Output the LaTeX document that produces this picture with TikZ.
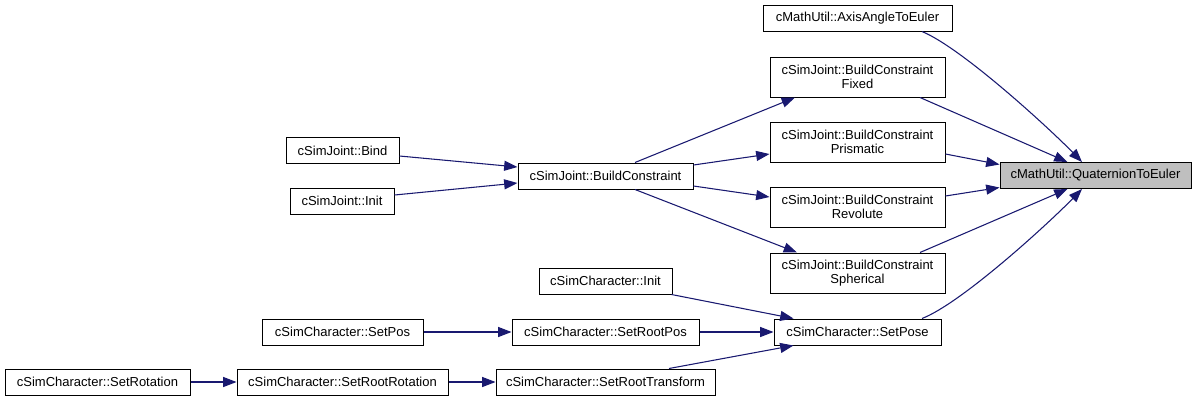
\documentclass[tikz,border=0pt]{standalone}
\usepackage{fontspec}
\setmainfont{Liberation Sans}
\usetikzlibrary{arrows.meta,calc}
\definecolor{edgec}{HTML}{191970}
\definecolor{hl}{HTML}{BFBFBF}
\begin{document}
\begin{tikzpicture}[x=0.75pt,y=-0.75pt,
  box/.style={draw=black,line width=0.75pt,fill=white,inner sep=0pt,align=center,
    font=\fontsize{9.75}{10.75}\selectfont,minimum height=19.5pt},
  bw/.style={minimum width=#1*0.75pt},
  twoline/.style={minimum height=30pt},
  edge/.style={draw=edgec,line width=0.8pt,-{Triangle[length=10pt,width=7.5pt]}}]
\useasboundingbox (0,0) rectangle (1197,401);
% nodes
\node[box,bw=189] (axis) at (857.5,18) {cMathUtil::AxisAngleToEuler};
\node[box,bw=175,twoline] (fixed) at (857.5,77) {cSimJoint::BuildConstraint\\Fixed};
\node[box,bw=175,twoline] (prism) at (857.5,142) {cSimJoint::BuildConstraint\\Prismatic};
\node[box,bw=175,twoline] (revol) at (857.5,207) {cSimJoint::BuildConstraint\\Revolute};
\node[box,bw=175,twoline] (spher) at (857.5,273) {cSimJoint::BuildConstraint\\Spherical};
\node[box,bw=191,fill=hl] (quat) at (1095.5,175.5) {cMathUtil::QuaternionToEuler};
\node[box,bw=167] (pose) at (857.5,332) {cSimCharacter::SetPose};
\node[box,bw=113] (bind) at (342.5,150.5) {cSimJoint::Bind};
\node[box,bw=104] (jinit) at (342,201) {cSimJoint::Init};
\node[box,bw=175] (bc) at (605.5,176) {cSimJoint::BuildConstraint};
\node[box,bw=133] (cinit) at (605.5,281) {cSimCharacter::Init};
\node[box,bw=161] (setpos) at (342.5,332) {cSimCharacter::SetPos};
\node[box,bw=187] (rootpos) at (605.5,332) {cSimCharacter::SetRootPos};
\node[box,bw=185] (setrot) at (97.5,382) {cSimCharacter::SetRotation};
\node[box,bw=211] (rootrot) at (342.5,382) {cSimCharacter::SetRootRotation};
\node[box,bw=219] (roottr) at (605.5,382) {cSimCharacter::SetRootTransform};
% edges
\draw[edge] ($(axis.south)+(64.5,0)$) .. controls (962,48) and (1050,129) .. ($(quat.north)+(-13.5,0)$);
\draw[edge] ($(fixed.south)+(62.5,0)$) -- ($(quat.north)+(-28,0)$);
\draw[edge] ($(prism.east)+(0,12)$) -- ($(quat.west)+(0,-11)$);
\draw[edge] ($(revol.east)+(0,-11)$) -- ($(quat.west)+(0,12)$);
\draw[edge] ($(spher.north)+(62.5,0)$) -- ($(quat.south)+(-28,0)$);
\draw[edge] ($(pose.north)+(64.5,0)$) .. controls (962,303) and (1050,222) .. ($(quat.south)+(-13.5,0)$);
\draw[edge] ($(bc.north)+(29.5,0)$) -- ($(fixed.south)+(-62.5,0)$);
\draw[edge] ($(bc.east)+(0,-11)$) -- ($(prism.west)+(0,12)$);
\draw[edge] ($(bc.east)+(0,10)$) -- ($(revol.west)+(0,-10)$);
\draw[edge] ($(bc.south)+(29.5,0)$) -- ($(spher.north)+(-60.5,0)$);
\draw[edge] ($(bind.east)+(0,5.5)$) -- ($(bc.west)+(0,-9)$);
\draw[edge] ($(jinit.east)+(0,-6)$) -- ($(bc.west)+(0,7)$);
\draw[edge] ($(cinit.south east)+(-1,0)$) -- ($(pose.north)+(-64,0)$);
\draw[edge] (rootpos.east) -- (pose.west);
\draw[edge] ($(roottr.north)+(63.5,0)$) -- ($(pose.south)+(-64,0)$);
\draw[edge] (setpos.east) -- (rootpos.west);
\draw[edge] (setrot.east) -- (rootrot.west);
\draw[edge] (rootrot.east) -- (roottr.west);
\end{tikzpicture}
\end{document}
